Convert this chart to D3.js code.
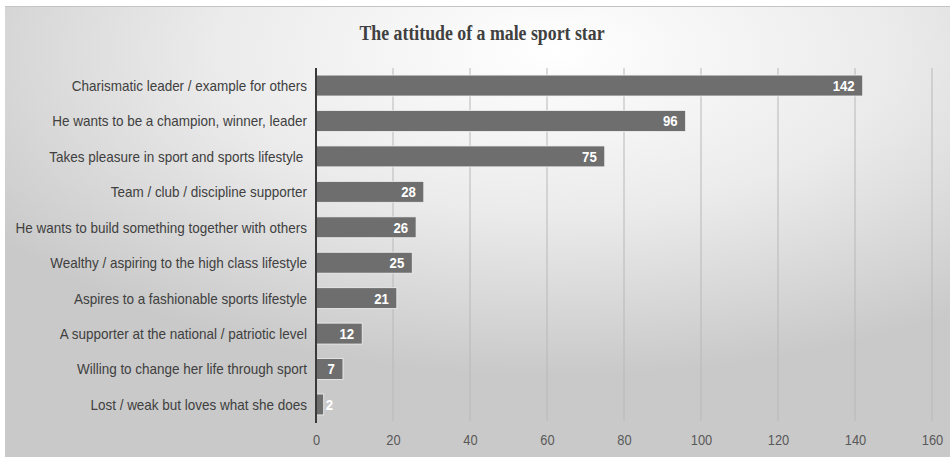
<!DOCTYPE html>
<html>
<head>
<meta charset="utf-8">
<script src="https://cdn.jsdelivr.net/npm/d3@7"></script>
<style>
  html, body { margin: 0; padding: 0; background: #fff; }
  svg { display: block; }
</style>
</head>
<body>
<div id="chart"></div>
<script>
"use strict";

// chart data
const categories = [
    "Charismatic leader / example for others",
    "He wants to be a champion, winner, leader",
    "Takes pleasure in sport and sports lifestyle ",
    "Team / club / discipline supporter",
    "He wants to build something together with others",
    "Wealthy / aspiring to the high class lifestyle",
    "Aspires to a fashionable sports lifestyle",
    "A supporter at the national / patriotic level",
    "Willing to change her life through sport",
    "Lost / weak but loves what she does"
];
const values = [142, 96, 75, 28, 26, 25, 21, 12, 7, 2];
const tickValues = [0, 20, 40, 60, 80, 100, 120, 140, 160];
const title = "The attitude of a male sport star";

const svgWidth = 950,
    svgHeight = 457;

const margin = { top: 68, right: 18, bottom: 35, left: 316 };

const svg = d3.select("#chart").append("svg")
    .attr("width", svgWidth)
    .attr("height", svgHeight);

// background gradient
const defs = svg.append("defs");
const grad = defs.append("radialGradient")
    .attr("id", "bg")
    .attr("cx", "0.58").attr("cy", "0.1")
    .attr("r", "0.72");
grad.append("stop").attr("offset", "0%").attr("stop-color", "#ffffff");
grad.append("stop").attr("offset", "50%").attr("stop-color", "#ebebeb");
grad.append("stop").attr("offset", "100%").attr("stop-color", "#c9c9c9");

svg.append("rect")
    .attr("x", 5).attr("y", 6)
    .attr("width", svgWidth - 5).attr("height", svgHeight - 6)
    .attr("fill", "url(#bg)");
svg.append("line")
    .attr("x1", 5).attr("x2", svgWidth)
    .attr("y1", 6.5).attr("y2", 6.5)
    .attr("stroke", "#c4c4c4");

// scales
const x = d3.scaleLinear()
    .domain([0, 160])
    .range([margin.left, svgWidth - margin.right]);

const y = d3.scaleBand()
    .domain(categories)
    .range([margin.top, svgHeight - margin.bottom])
    .paddingInner(0.41)
    .paddingOuter(0.2);

// condense text horizontally (the original uses a narrow face)
function condense(sel, k) {
    sel.each(function () {
        const t = d3.select(this);
        const X = +t.attr("x") || 0;
        t.attr("x", 0)
            .attr("transform", "translate(" + X + ",0) scale(" + k + ",1)");
    });
}

// title
svg.append("text")
    .attr("x", 482)
    .attr("y", 40)
    .attr("text-anchor", "middle")
    .style("font-family", "'Liberation Serif', 'Times New Roman', serif")
    .style("font-weight", "bold")
    .style("font-size", "20px")
    .attr("fill", "#404040")
    .text(title)
    .call(condense, 0.89);

// gridlines
svg.append("g")
    .selectAll("line")
    .data(tickValues.filter(d => d > 0))
    .enter()
    .append("line")
    .attr("x1", d => x(d)).attr("x2", d => x(d))
    .attr("y1", margin.top).attr("y2", svgHeight - margin.bottom - 1)
    .attr("stroke", "#b8b8b8")
    .attr("stroke-width", 1);

// x axis tick labels
const xAxis = svg.append("g")
    .attr("transform", "translate(0," + (svgHeight - margin.bottom) + ")")
    .call(d3.axisBottom(x).tickValues(tickValues).tickSize(0).tickPadding(12));
xAxis.select(".domain").remove();
xAxis.selectAll("text")
    .style("font-family", "'Liberation Sans', Arial, sans-serif")
    .style("font-size", "15px")
    .attr("fill", "#595959")
    .call(condense, 0.86);

// bars
svg.append("g")
    .selectAll("rect")
    .data(values)
    .enter()
    .append("rect")
    .attr("x", x(0))
    .attr("y", (d, i) => y(categories[i]))
    .attr("width", d => x(d) - x(0))
    .attr("height", y.bandwidth())
    .attr("fill", "#6e6e6e")
    .attr("stroke", "#f2f2f2")
    .attr("stroke-width", 0.8);

// category labels
svg.append("g")
    .selectAll("text")
    .data(categories)
    .enter()
    .append("text")
    .attr("x", margin.left - 9)
    .attr("y", d => y(d) + y.bandwidth() / 2)
    .attr("dy", "0.36em")
    .attr("text-anchor", "end")
    .attr("xml:space", "preserve")
    .style("font-family", "'Liberation Sans', Arial, sans-serif")
    .style("font-size", "15px")
    .attr("fill", "#404040")
    .text(d => d)
    .call(condense, 0.9);

// value labels: inside the bar end, or just past it when the bar is too short
const valueK = 0.88;
svg.append("g")
    .selectAll("text")
    .data(values)
    .enter()
    .append("text")
    .attr("y", (d, i) => y(categories[i]) + y.bandwidth() / 2)
    .attr("dy", "0.36em")
    .style("font-family", "'Liberation Sans', Arial, sans-serif")
    .style("font-weight", "bold")
    .style("font-size", "15px")
    .attr("fill", "#ffffff")
    .text(d => d)
    .each(function (d) {
        const w = this.getComputedTextLength() * valueK;
        const barW = x(d) - x(0);
        const t = d3.select(this);
        if (barW < w + 10) {
            t.attr("x", x(d) + 2).attr("text-anchor", "start");
        } else {
            t.attr("x", x(d) - 8).attr("text-anchor", "end");
        }
    })
    .call(condense, valueK);

// value axis line
svg.append("line")
    .attr("x1", x(0)).attr("x2", x(0))
    .attr("y1", margin.top).attr("y2", svgHeight - margin.bottom + 1)
    .attr("stroke", "#3a3a3a")
    .attr("stroke-width", 2);
</script>
</body>
</html>
